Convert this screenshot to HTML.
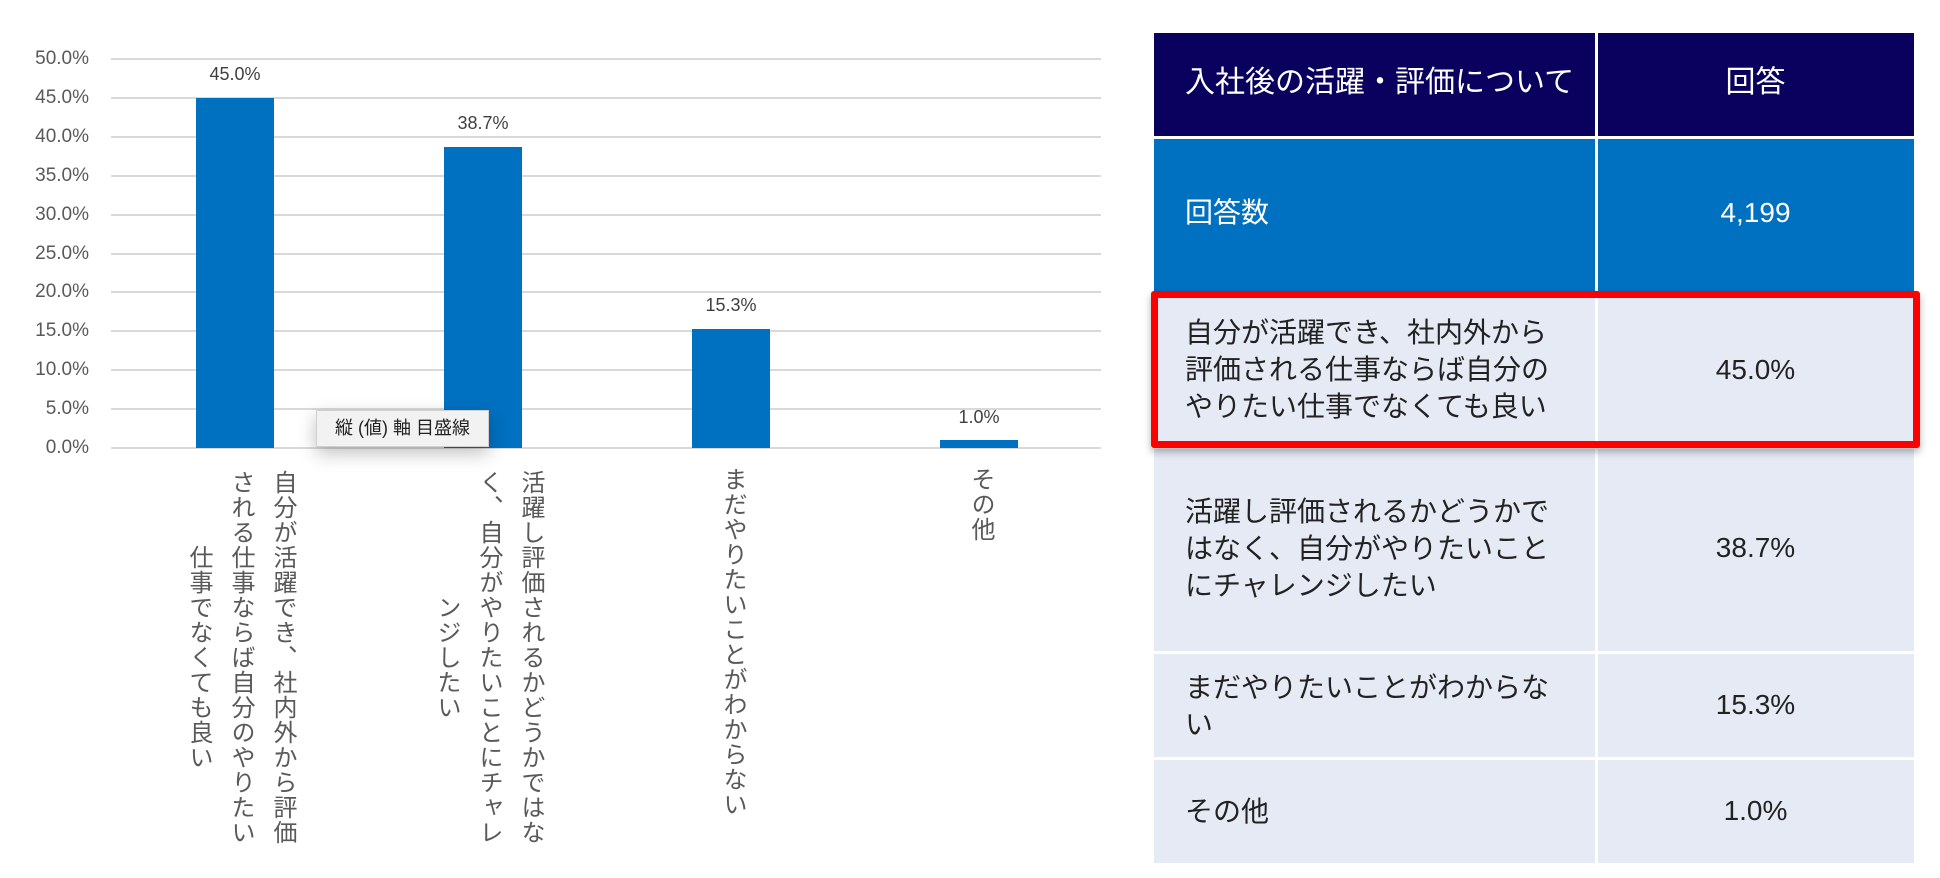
<!DOCTYPE html>
<html><head><meta charset="utf-8">
<style>
body{margin:0;width:1940px;height:878px;background:#fff;position:relative;overflow:hidden;font-family:"Liberation Sans","Noto Sans CJK JP",sans-serif;}
.ab{position:absolute;}
.yl{position:absolute;right:1851px;width:80px;text-align:right;font-size:19px;color:#595959;line-height:20px;}
.dl{position:absolute;width:100px;text-align:center;font-size:18px;color:#404040;line-height:20px;}
.cat{position:absolute;writing-mode:vertical-rl;text-align:center;font-size:24px;line-height:42px;letter-spacing:1px;color:#595959;height:380px;top:467px;}
.cat1{position:absolute;writing-mode:vertical-rl;font-size:24px;line-height:42px;letter-spacing:1px;color:#595959;top:467px;}
.cell{position:absolute;box-sizing:border-box;}
.tx{position:absolute;font-size:28px;line-height:37px;color:#222;}
.num{position:absolute;left:1597px;width:317px;text-align:center;font-size:28px;color:#222;line-height:36px;}
</style></head><body>
<svg class="ab" style="left:0;top:0" width="1140" height="878">
<g stroke="#d9d9d9" stroke-width="2">
<line x1="111" x2="1101" y1="59" y2="59"/><line x1="111" x2="1101" y1="98" y2="98"/>
<line x1="111" x2="1101" y1="137" y2="137"/><line x1="111" x2="1101" y1="176" y2="176"/>
<line x1="111" x2="1101" y1="215" y2="215"/><line x1="111" x2="1101" y1="254" y2="254"/>
<line x1="111" x2="1101" y1="292" y2="292"/><line x1="111" x2="1101" y1="331" y2="331"/>
<line x1="111" x2="1101" y1="370" y2="370"/><line x1="111" x2="1101" y1="409" y2="409"/>
<line x1="111" x2="1101" y1="448" y2="448"/>
</g>
<g fill="#0070c0">
<rect x="196" y="98" width="78" height="350"/>
<rect x="444" y="147" width="78" height="301"/>
<rect x="692" y="329" width="78" height="119"/>
<rect x="940" y="440" width="78" height="8"/>
</g>
</svg>
<div class="yl" style="top:49px">50.0%</div>
<div class="yl" style="top:88px">45.0%</div>
<div class="yl" style="top:127px">40.0%</div>
<div class="yl" style="top:166px">35.0%</div>
<div class="yl" style="top:205px">30.0%</div>
<div class="yl" style="top:244px">25.0%</div>
<div class="yl" style="top:282px">20.0%</div>
<div class="yl" style="top:321px">15.0%</div>
<div class="yl" style="top:360px">10.0%</div>
<div class="yl" style="top:399px">5.0%</div>
<div class="yl" style="top:438px">0.0%</div>
<div class="dl" style="left:185px;top:64px">45.0%</div>
<div class="dl" style="left:433px;top:113px">38.7%</div>
<div class="dl" style="left:681px;top:295px">15.3%</div>
<div class="dl" style="left:929px;top:407px">1.0%</div>
<div class="ab" style="left:316px;top:410px;width:171px;height:35px;background:#f2f2f2;border:1px solid #d0d0d0;box-shadow:0 6px 18px rgba(0,0,0,0.25);font-size:18px;line-height:35px;text-align:center;color:#222;">縦 (値) 軸 目盛線</div>
<div class="cat" style="left:173px;width:130px">自分が活躍でき、社内外から評価される仕事ならば自分のやりたい仕事でなくても良い</div>
<div class="cat" style="left:421px;width:130px">活躍し評価されるかどうかではなく、自分がやりたいことにチャレンジしたい</div>
<div class="cat1" style="left:711px;width:42px">まだやりたいことがわからない</div>
<div class="cat1" style="left:959px;width:42px">その他</div>

<div class="cell" style="left:1154px;top:33px;width:441px;height:103px;background:#0a005e"></div>
<div class="cell" style="left:1598px;top:33px;width:316px;height:103px;background:#0a005e"></div>
<div class="cell" style="left:1154px;top:139px;width:441px;height:152px;background:#0070c0"></div>
<div class="cell" style="left:1598px;top:139px;width:316px;height:152px;background:#0070c0"></div>
<div class="cell" style="left:1154px;top:294px;width:441px;height:152px;background:#e6eaf5"></div>
<div class="cell" style="left:1598px;top:294px;width:316px;height:152px;background:#e6eaf5"></div>
<div class="cell" style="left:1154px;top:449px;width:441px;height:202px;background:#e6eaf5"></div>
<div class="cell" style="left:1598px;top:449px;width:316px;height:202px;background:#e6eaf5"></div>
<div class="cell" style="left:1154px;top:654px;width:441px;height:103px;background:#e6eaf5"></div>
<div class="cell" style="left:1598px;top:654px;width:316px;height:103px;background:#e6eaf5"></div>
<div class="cell" style="left:1154px;top:760px;width:441px;height:103px;background:#e6eaf5"></div>
<div class="cell" style="left:1598px;top:760px;width:316px;height:103px;background:#e6eaf5"></div>
<div class="cell" style="left:1151px;top:291px;width:769px;height:157px;border:7px solid #ff0000;border-radius:3px;box-shadow:0 4px 8px rgba(0,0,0,0.3);"></div>

<div class="tx" style="left:1185px;top:65px;font-size:30px;color:#fff;line-height:36px">入社後の活躍・評価について</div>
<div class="num" style="top:65px;font-size:30px;color:#fff">回答</div>
<div class="tx" style="left:1185px;top:195px;color:#fff;line-height:36px">回答数</div>
<div class="num" style="top:195px;color:#fff">4,199</div>
<div class="tx" style="left:1185px;top:314px">自分が活躍でき、社内外から<br>評価される仕事ならば自分の<br>やりたい仕事でなくても良い</div>
<div class="num" style="top:352px">45.0%</div>
<div class="tx" style="left:1185px;top:493px">活躍し評価されるかどうかで<br>はなく、自分がやりたいこと<br>にチャレンジしたい</div>
<div class="num" style="top:530px">38.7%</div>
<div class="tx" style="left:1185px;top:669px">まだやりたいことがわからな<br>い</div>
<div class="num" style="top:687px">15.3%</div>
<div class="tx" style="left:1185px;top:793px">その他</div>
<div class="num" style="top:793px">1.0%</div>
</body></html>
